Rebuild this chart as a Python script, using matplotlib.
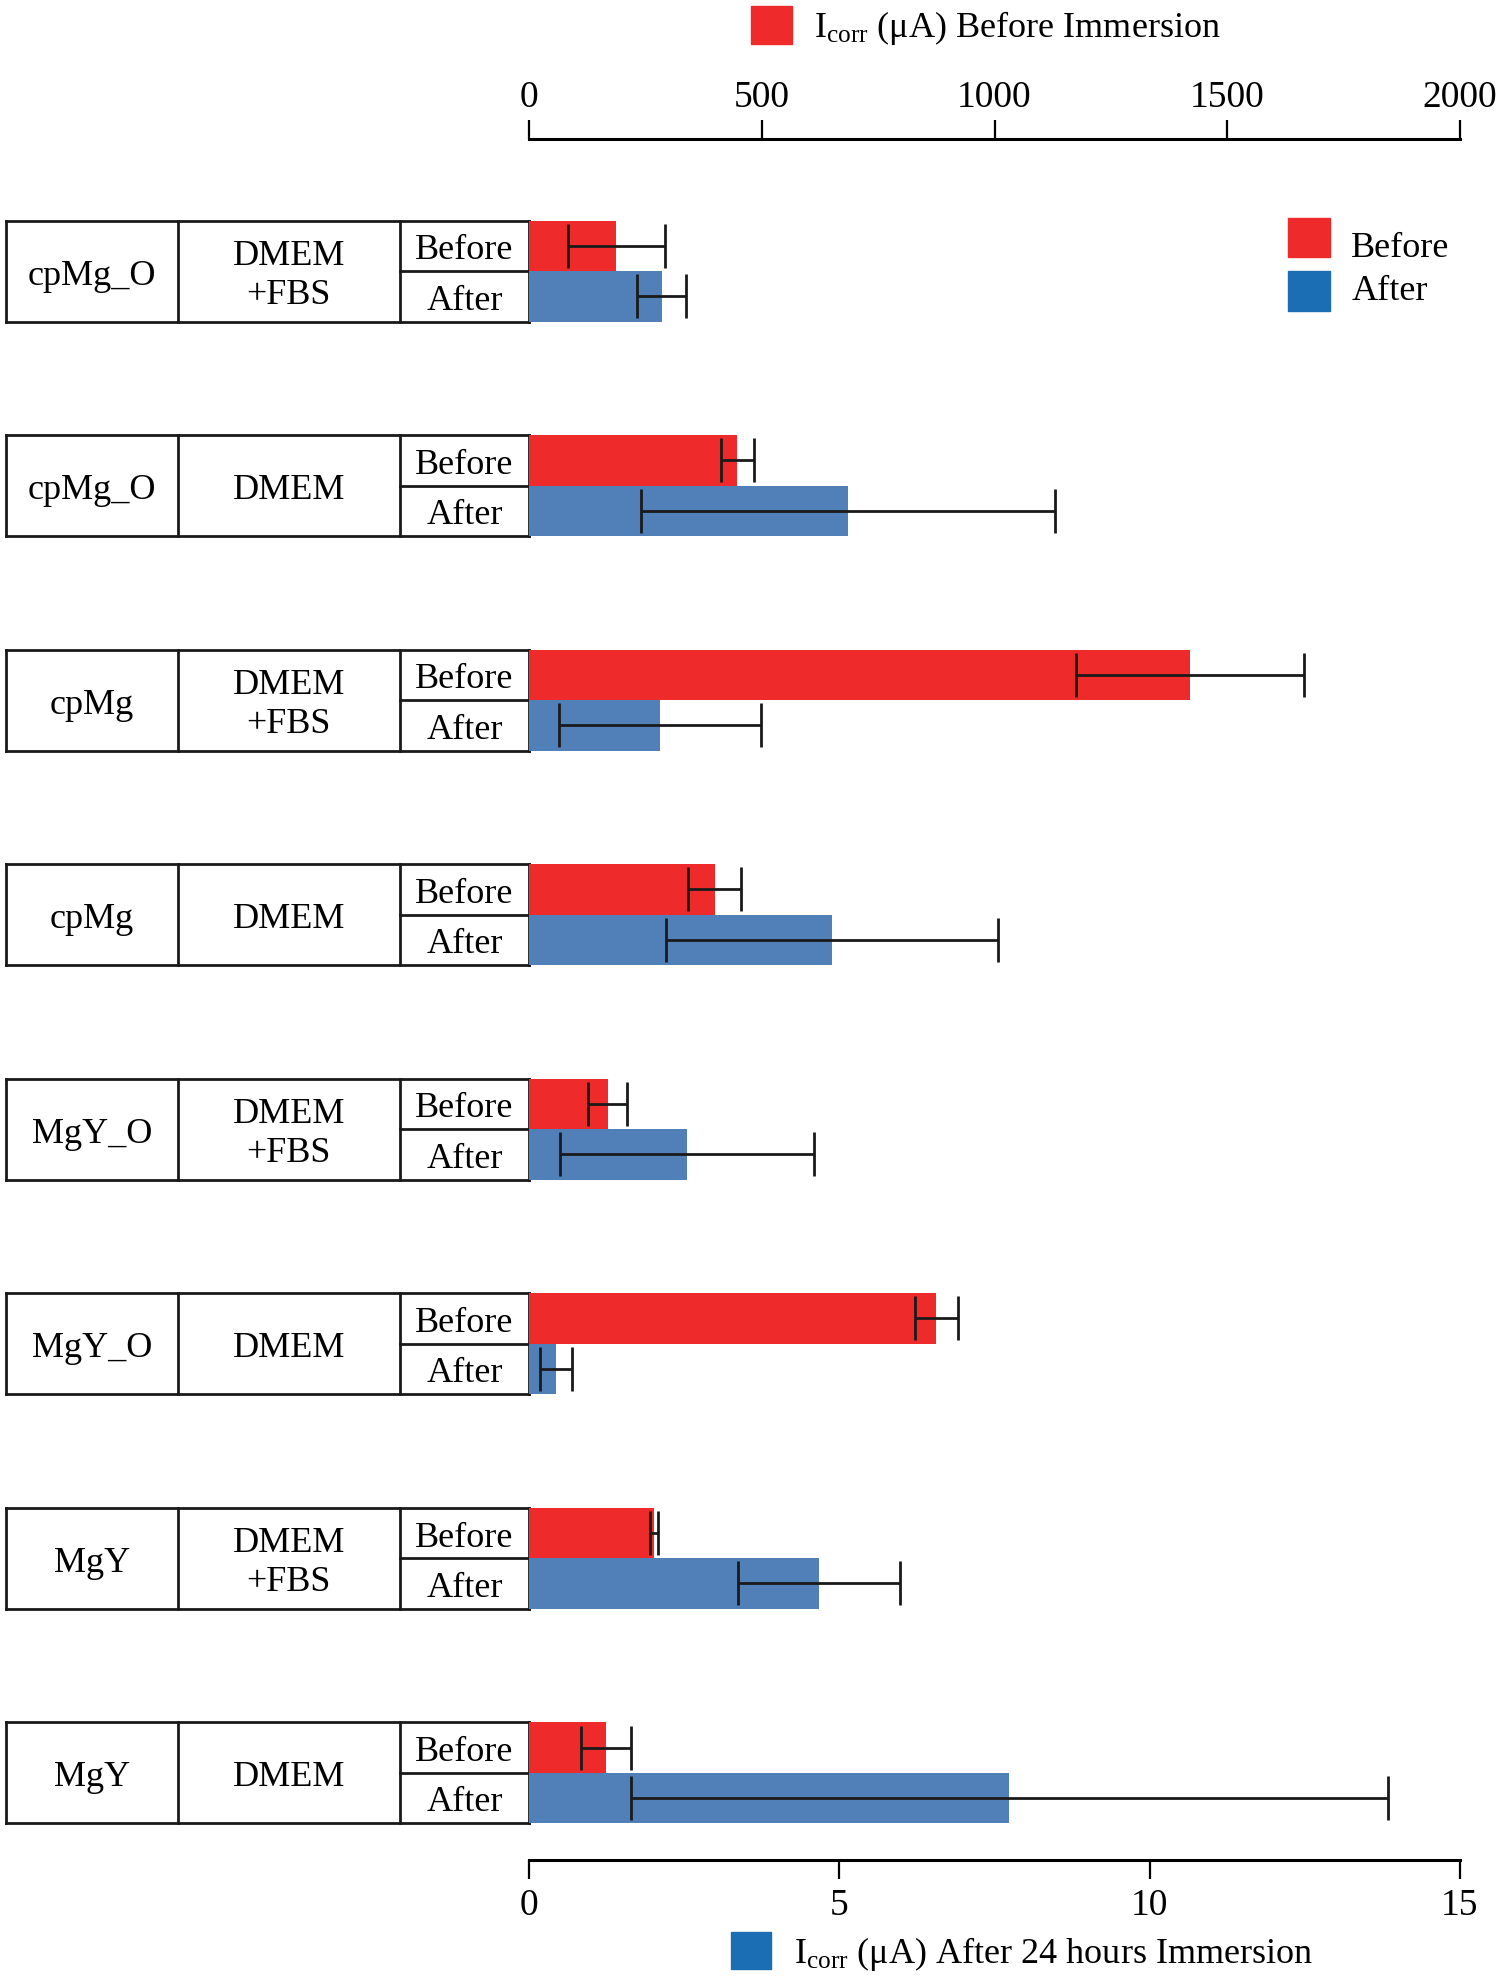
import matplotlib
matplotlib.use("Agg")
import numpy as np
from matplotlib import pyplot as plt
from matplotlib.patches import Rectangle
from matplotlib.transforms import blended_transform_factory

plt.rcParams['font.family'] = ['Liberation Serif', 'DejaVu Serif']
plt.rcParams['mathtext.fontset'] = 'custom'
plt.rcParams['mathtext.rm'] = 'Liberation Serif'
plt.rcParams['mathtext.it'] = 'Liberation Serif:italic'
plt.rcParams['font.size'] = 26

# data
samples = ["cpMg_O", "cpMg_O", "cpMg", "cpMg", "MgY_O", "MgY_O", "MgY", "MgY"]
media = ["DMEM\n+FBS", "DMEM", "DMEM\n+FBS", "DMEM", "DMEM\n+FBS", "DMEM", "DMEM\n+FBS", "DMEM"]
before = [187, 447, 1420, 398, 168, 875, 268, 165]          # uA, top axis
before_err = [104, 35, 245, 57, 41, 47, 9.5, 54]
after = [2.13, 5.14, 2.11, 4.88, 2.54, 0.43, 4.67, 7.74]     # uA, bottom axis
after_err = [0.40, 3.34, 1.63, 2.68, 2.05, 0.26, 1.30, 6.10]
top_ticks = [0, 500, 1000, 1500, 2000]
bottom_ticks = [0, 5, 10, 15]

RED = '#EE2A2B'
BLUE = '#5180B9'
BLUE_LEG = '#1B6DB4'

# layout helpers, reference measured in a 1190x1568 frame
W, H = 1190.0, 1568.0
fx = lambda x: x / W
fy = lambda y: 1 - y / H

fig = plt.figure(figsize=(15, 19.77), dpi=100)
ax = fig.add_axes([fx(420), fy(1475), fx(1158) - fx(420), fy(110) - fy(1475)])
gap = 170.1
ax.set_ylim(len(samples) - 1 + 69 / gap, -105 / gap)
ax.set_xlim(0, 2000)
ax2 = ax.twiny()
ax2.set_xlim(0, 15)

h = 40 / gap
y = np.arange(len(samples))
ekw = dict(ecolor='#1a1a1a', elinewidth=2.0, capsize=16, capthick=2.0, zorder=5)
ax.barh(y - h / 2, before, height=h, color=RED, xerr=before_err, error_kw=ekw, zorder=3)
ax2.barh(y + h / 2, after, height=h, color=BLUE, xerr=after_err, error_kw=ekw, zorder=3)

ax.xaxis.tick_top()
ax.set_xticks(top_ticks)
ax.set_yticks([])
ax2.set_xticks(bottom_ticks)
ax2.xaxis.set_ticks_position('bottom')
ax2.xaxis.set_label_position('bottom')
for s in ['left', 'right', 'bottom']:
    ax.spines[s].set_visible(False)
for s in ['left', 'right', 'top']:
    ax2.spines[s].set_visible(False)
ax.spines['top'].set_linewidth(2.2)
ax2.spines['bottom'].set_linewidth(2.2)
ax.tick_params(axis='x', direction='out', length=14, width=1.6, pad=3, labelsize=27)
ax2.tick_params(axis='x', direction='out', length=14, width=1.6, pad=7, labelsize=27)
ax.patch.set_visible(False)
ax2.patch.set_visible(False)

# table on the left
trans = blended_transform_factory(fig.transFigure, ax.transData)
cols = [5, 141, 317, 420]
off = 4 / gap
lk = dict(color='#1a1a1a', lw=2.0, transform=trans, clip_on=False, zorder=2)
for i in range(len(samples)):
    t, b = i - h, i + h
    ax.plot([fx(cols[0]), fx(cols[3])], [t, t], **lk)
    ax.plot([fx(cols[0]), fx(cols[3])], [b, b], **lk)
    for c in cols:
        ax.plot([fx(c), fx(c)], [t, b], **lk)
    ax.plot([fx(cols[2]), fx(cols[3])], [i, i], **lk)
    ax.text(fx((cols[0] + cols[1]) / 2), i + off, samples[i], transform=trans,
            ha='center', va='center')
    ax.text(fx((cols[1] + cols[2]) / 2), i + off, media[i], transform=trans,
            ha='center', va='center', linespacing=1.25)
    ax.text(fx((cols[2] + cols[3]) / 2), i - h / 2 + off, "Before", transform=trans,
            ha='center', va='center')
    ax.text(fx((cols[2] + cols[3]) / 2), i + h / 2 + off, "After", transform=trans,
            ha='center', va='center')

# legends
def swatch(x0, y0, x1, y1, color):
    fig.patches.append(Rectangle((fx(x0), fy(y1)), fx(x1) - fx(x0), fy(y0) - fy(y1),
                                 transform=fig.transFigure, color=color))

swatch(596, 5, 628, 35, RED)
fig.text(fx(646), fy(22), r"I$_{\mathrm{corr}}$ (μA) Before Immersion", ha='left', va='center')
swatch(580, 1532, 612, 1562, BLUE_LEG)
fig.text(fx(630), fy(1550), r"I$_{\mathrm{corr}}$ (μA) After 24 hours Immersion", ha='left', va='center')
swatch(1022, 173, 1055, 204, RED)
swatch(1022, 215, 1055, 247, BLUE_LEG)
fig.text(fx(1072), fy(197), "Before", ha='left', va='center')
fig.text(fx(1072), fy(231), "After", ha='left', va='center')

fig.savefig("out.png", dpi=100)
